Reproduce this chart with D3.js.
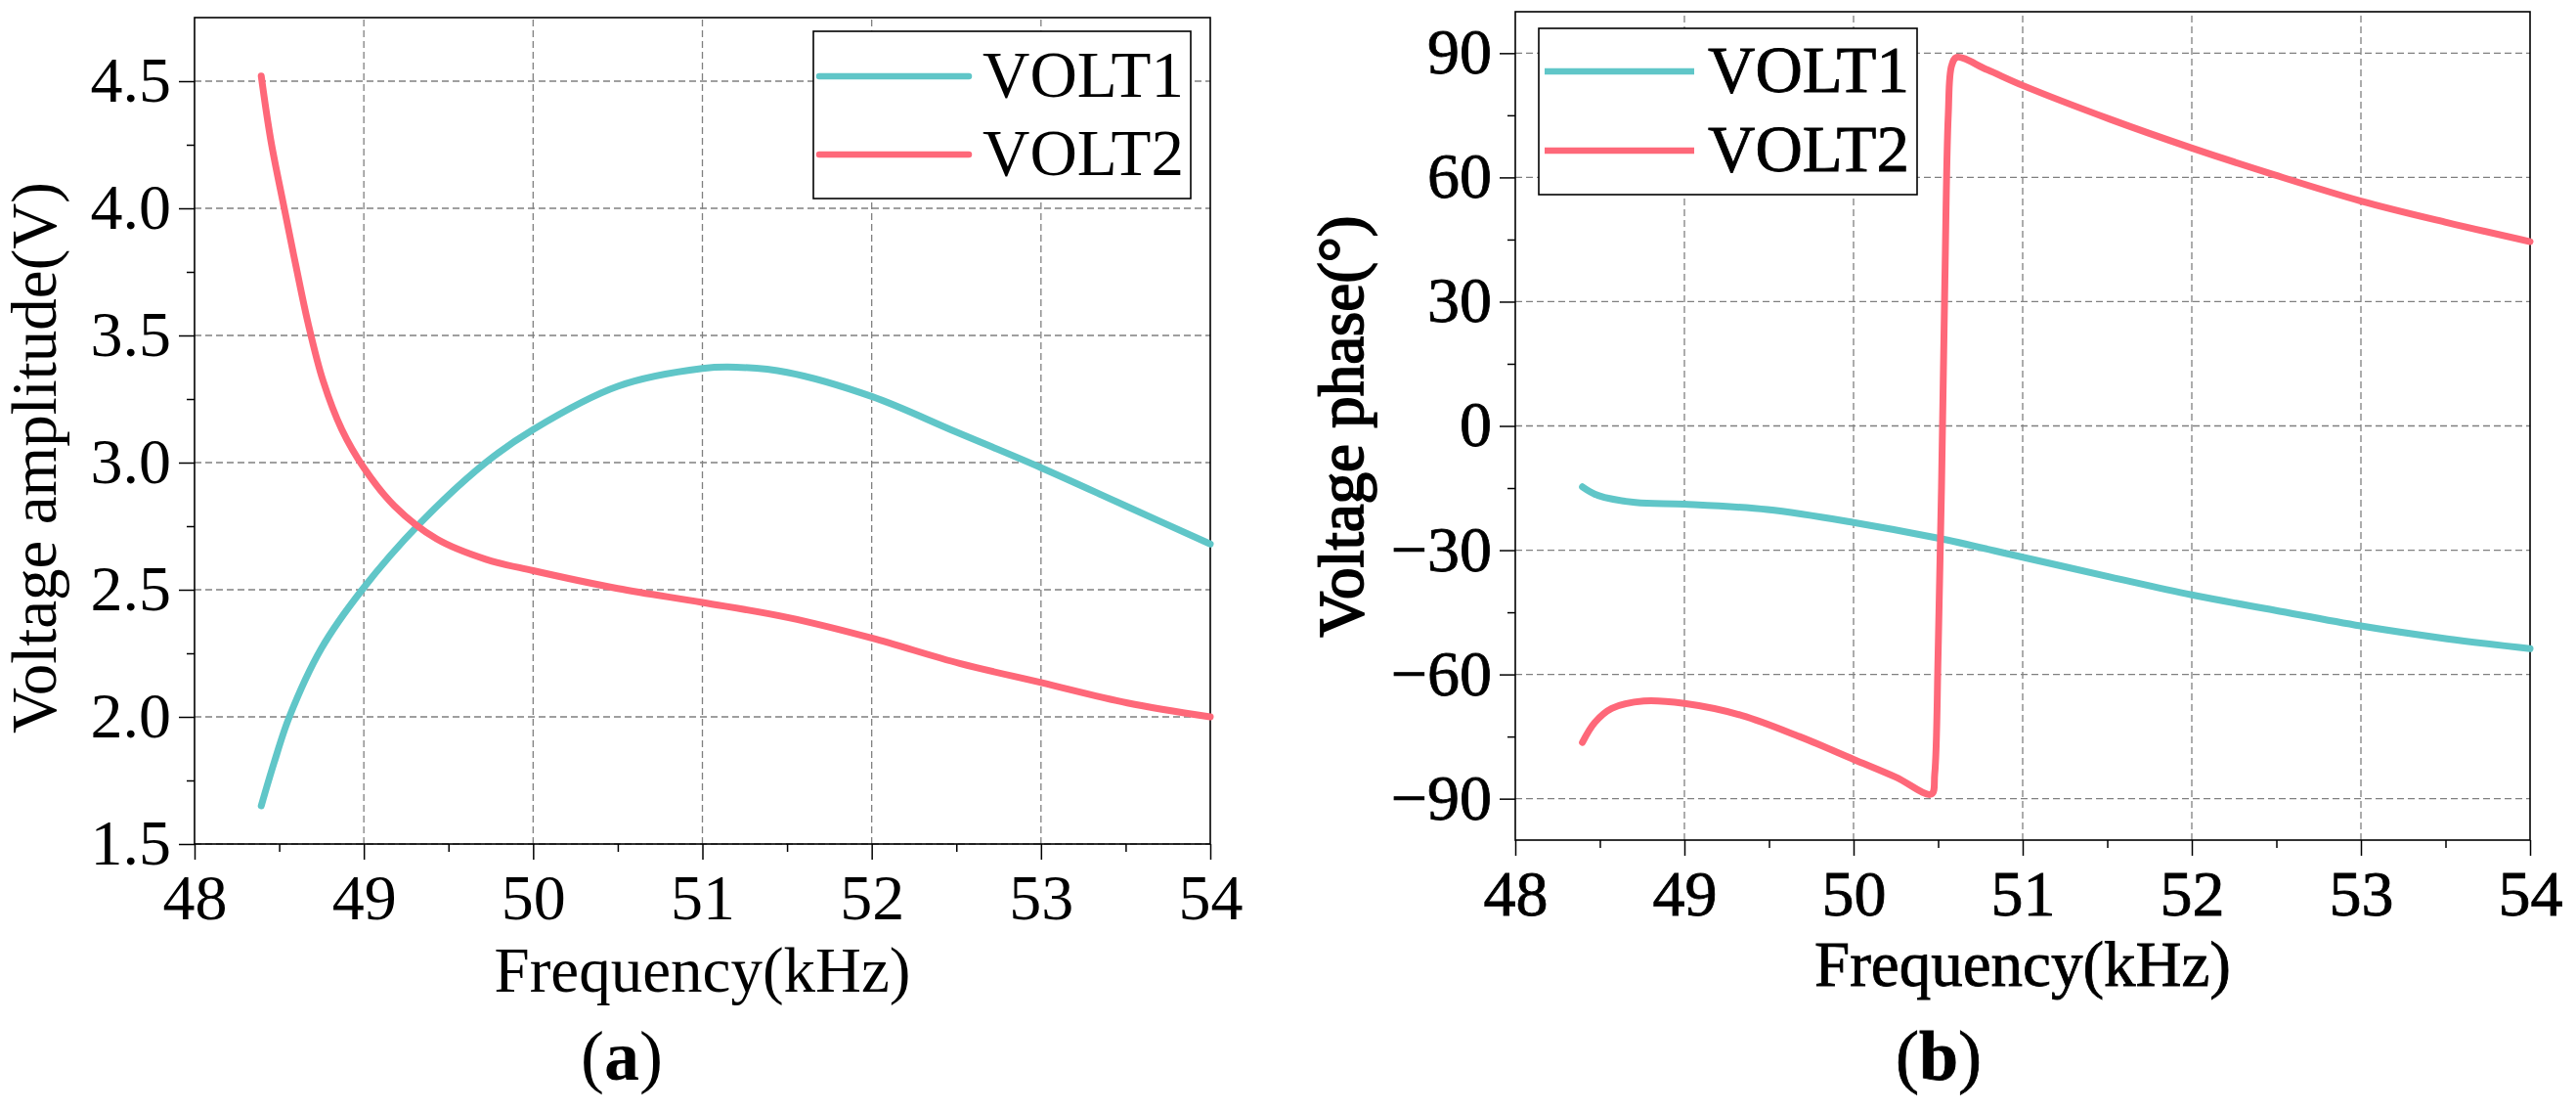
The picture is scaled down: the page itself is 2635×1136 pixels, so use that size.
<!DOCTYPE html>
<html>
<head>
<meta charset="utf-8">
<script src="https://cdn.jsdelivr.net/npm/d3@7"></script>
<style>
  body { margin: 0; background: #fff; }
  text { font-family: "Liberation Serif", "Times New Roman", serif; fill: #000; }
</style>
</head>
<body>
<div id="chart"></div>
<script>
// Tick values
const freqTicks = [48, 49, 50, 51, 52, 53, 54];
const ampTicks = [1.5, 2.0, 2.5, 3.0, 3.5, 4.0, 4.5];
const phaseTicks = [-90, -60, -30, 0, 30, 60, 90];
const seriesNames = ['VOLT1', 'VOLT2'];
const seriesColors = ['#60c6c8', '#fe6879'];

// (a) voltage amplitude, [kHz, V]
const ampVolt1 = [
  [48.394, 1.65], [48.47, 1.82], [48.56, 2.0], [48.75, 2.27], [48.99, 2.5], [49.33, 2.76],
  [49.72, 3.0], [50.0, 3.13], [50.5, 3.30], [51.0, 3.37], [51.2, 3.375],
  [51.5, 3.355], [52.0, 3.26], [52.5, 3.12], [53.0, 2.98], [53.5, 2.83], [54.0, 2.68]
];
const ampVolt2 = [
  [48.394, 4.52], [48.45, 4.27], [48.53, 4.0], [48.6, 3.77], [48.67, 3.55],
  [48.76, 3.32], [48.87, 3.13], [49.0, 2.98], [49.18, 2.83], [49.43, 2.70],
  [49.72, 2.62], [50.0, 2.575], [50.5, 2.505], [51.0, 2.45], [51.51, 2.39],
  [52.0, 2.31], [52.52, 2.21], [53.0, 2.135], [53.51, 2.055], [54.0, 2.0]
];

// (b) voltage phase, [kHz, deg]
const phaseVolt1 = [
  [48.397, -14.7], [48.49, -16.8], [48.71, -18.5], [49.0, -18.9], [49.49, -20.2],
  [50.0, -23.3], [50.5, -27.1], [51.0, -31.7], [51.52, -36.5], [52.0, -40.8],
  [52.49, -44.5], [53.0, -48.3], [53.51, -51.4], [54.0, -53.8]
];
const phaseVolt2 = [
  [48.397, -76.4], [48.47, -71.6], [48.57, -68.2], [48.76, -66.4], [49.0, -67.0],
  [49.34, -69.9], [49.68, -75.0], [50.0, -80.5], [50.25, -84.8], [50.46, -88.9],
  [50.48, -84], [50.5, -55], [50.52, -15], [50.54, 35], [50.56, 75], [50.58, 87],
  [50.61, 89], [50.79, 86], [51.0, 82.2], [51.52, 74], [52.0, 67.1],
  [52.49, 60.6], [53.0, 54.3], [53.51, 49.1], [54.0, 44.5]
];

const svg = d3.select('#chart').append('svg')
  .attr('width', 2635)
  .attr('height', 1136);

const serif = '"Liberation Serif", "Times New Roman", serif';

function drawPanel(cfg) {
  const x = d3.scaleLinear().domain([48, 54]).range(cfg.xRange);
  const y = d3.scaleLinear().domain(cfg.yDomain).range(cfg.yRange);
  const g = svg.append('g');
  const heavy = cfg.heavy || 0;

  // grid
  g.append('g').selectAll('line').data(freqTicks.slice(1, -1)).join('line')
    .attr('x1', d => x(d)).attr('x2', d => x(d))
    .attr('y1', cfg.yRange[0]).attr('y2', cfg.yRange[1])
    .attr('stroke', '#808080').attr('stroke-width', 1.3).attr('stroke-dasharray', '7,4');
  g.append('g').selectAll('line').data(cfg.yTicks).join('line')
    .attr('x1', cfg.xRange[0]).attr('x2', cfg.xRange[1])
    .attr('y1', d => y(d)).attr('y2', d => y(d))
    .attr('stroke', '#808080').attr('stroke-width', 1.3).attr('stroke-dasharray', '7,4');

  // minor ticks
  const xMinor = d3.range(48.5, 54, 1);
  const yStep = cfg.yTicks[1] - cfg.yTicks[0];
  const yMinor = cfg.yTicks.map(d => d + yStep / 2).filter(d => y(d) > cfg.yRange[1]);
  g.append('g').attr('transform', `translate(0,${cfg.yRange[0]})`)
    .call(d3.axisBottom(x).tickValues(xMinor).tickSize(8).tickFormat(''))
    .call(a => a.select('.domain').remove());
  g.append('g').attr('transform', `translate(${cfg.xRange[0]},0)`)
    .call(d3.axisLeft(y).tickValues(yMinor).tickSize(8).tickFormat(''))
    .call(a => a.select('.domain').remove());

  // major ticks
  const xAxis = g.append('g').attr('transform', `translate(0,${cfg.yRange[0]})`)
    .call(d3.axisBottom(x).tickValues(freqTicks).tickSize(16).tickPadding(14).tickFormat(d3.format('d')));
  xAxis.select('.domain').remove();
  xAxis.attr('font-family', serif).attr('font-size', 66);
  xAxis.selectAll('text').attr('dy', '0.71em').attr('font-family', serif)
    .attr('stroke', '#000').attr('stroke-width', heavy);

  const yAxis = g.append('g').attr('transform', `translate(${cfg.xRange[0]},0)`)
    .call(d3.axisLeft(y).tickValues(cfg.yTicks).tickSize(16).tickPadding(8).tickFormat(cfg.yFormat));
  yAxis.select('.domain').remove();
  yAxis.attr('font-family', serif).attr('font-size', 66);
  yAxis.selectAll('text').attr('dy', '0.31em').attr('font-family', serif)
    .attr('stroke', '#000').attr('stroke-width', heavy);
  g.selectAll('.tick line').attr('stroke-width', 1.5);

  // frame
  g.append('rect')
    .attr('x', cfg.xRange[0]).attr('y', cfg.yRange[1])
    .attr('width', cfg.xRange[1] - cfg.xRange[0])
    .attr('height', cfg.yRange[0] - cfg.yRange[1])
    .attr('fill', 'none').attr('stroke', '#000').attr('stroke-width', 1.6);

  // curves
  const line = d3.line().x(d => x(d[0])).y(d => y(d[1])).curve(d3.curveCatmullRom.alpha(0.5));
  cfg.series.forEach((s, i) => {
    g.append('path').datum(s)
      .attr('d', line)
      .attr('fill', 'none').attr('stroke', seriesColors[i])
      .attr('stroke-width', 7).attr('stroke-linecap', 'round').attr('stroke-linejoin', 'round');
  });

  // legend
  const lg = cfg.legend;
  g.append('rect').attr('x', lg.x).attr('y', lg.y).attr('width', lg.w).attr('height', lg.h)
    .attr('fill', '#fff').attr('stroke', '#000').attr('stroke-width', 1.6);
  seriesNames.forEach((name, i) => {
    const ly = lg.y + lg.row0 + i * lg.rowGap;
    g.append('line').attr('x1', lg.x + 6).attr('x2', lg.x + 159)
      .attr('y1', ly).attr('y2', ly)
      .attr('stroke', seriesColors[i]).attr('stroke-width', 6.5).attr('stroke-linecap', lg.cap);
    g.append('text').attr('x', lg.x + 173).attr('y', ly + 21)
      .attr('font-size', 67).attr('stroke', '#000').attr('stroke-width', heavy)
      .text(name);
  });

  // titles
  const cx = (cfg.xRange[0] + cfg.xRange[1]) / 2;
  g.append('text').attr('x', cx).attr('y', cfg.xTitleY).attr('text-anchor', 'middle')
    .attr('font-size', 65).attr('stroke', '#000').attr('stroke-width', heavy)
    .text('Frequency(kHz)');
  g.append('text')
    .attr('transform', `translate(${cfg.yTitleX},${cfg.yTitleY}) rotate(-90)`)
    .attr('text-anchor', 'middle').attr('font-size', 65)
    .attr('stroke', '#000').attr('stroke-width', cfg.yTitleStroke || 0)
    .text(cfg.yTitle);

  const cap = g.append('text').attr('x', cfg.capX).attr('y', 1104)
    .attr('text-anchor', 'middle').attr('font-size', 72)
    .attr('stroke', '#000').attr('stroke-width', heavy);
  cap.append('tspan').text('(');
  cap.append('tspan').attr('font-weight', 'bold').text(cfg.capLetter);
  cap.append('tspan').text(')');
}

drawPanel({
  xRange: [199, 1238], yRange: [863, 18], yDomain: [1.5, 4.75],
  yTicks: ampTicks, yFormat: d3.format('.1f'),
  series: [ampVolt1, ampVolt2],
  legend: { x: 832, y: 32, w: 386, h: 171, row0: 46, rowGap: 80, cap: 'round' },
  xTitleY: 1014, yTitle: 'Voltage amplitude(V)', yTitleX: 57, yTitleY: 468,
  capX: 636, capLetter: 'a'
});

drawPanel({
  xRange: [1550, 2588], yRange: [859, 12], yDomain: [-100, 100],
  yTicks: phaseTicks, yFormat: d3.format('d'),
  series: [phaseVolt1, phaseVolt2], heavy: 0.8,
  legend: { x: 1574, y: 29, w: 387, h: 170, row0: 44, rowGap: 81, cap: 'butt' },
  xTitleY: 1008, yTitle: 'Voltage phase(°)', yTitleX: 1394, yTitleY: 436, yTitleStroke: 1.8,
  capX: 1983, capLetter: 'b'
});
</script>
</body>
</html>
